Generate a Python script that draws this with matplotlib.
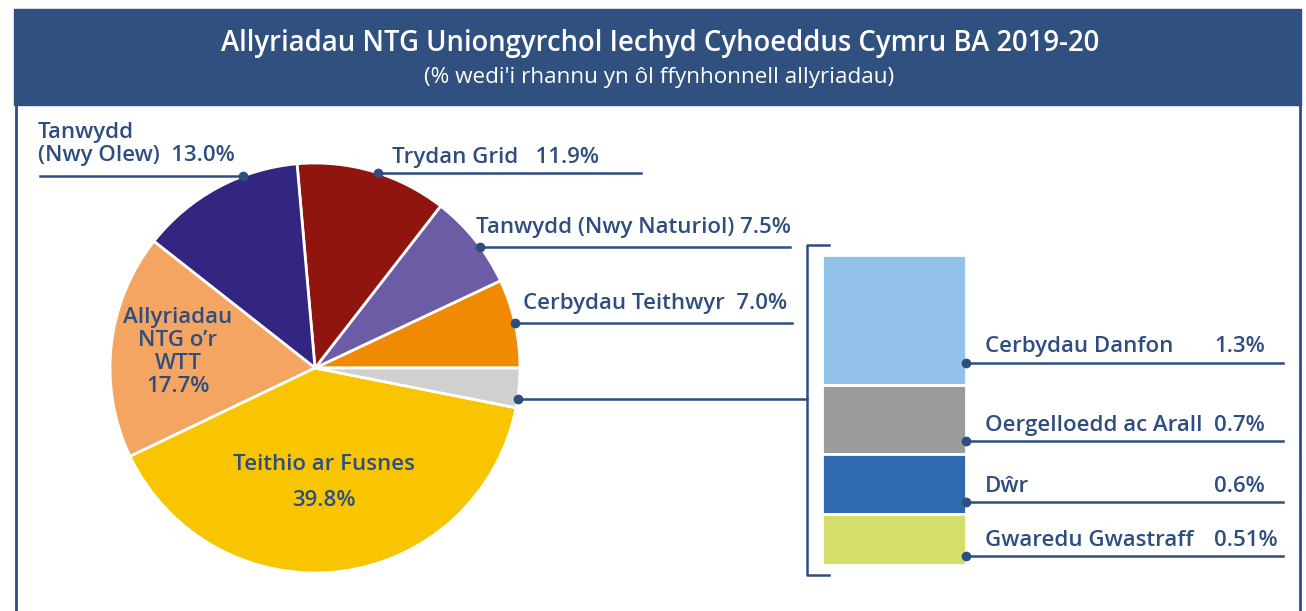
import numpy as np
import matplotlib
matplotlib.use("Agg")
import matplotlib.pyplot as plt
import matplotlib.transforms as mtransforms
from matplotlib.patches import Rectangle

plt.rcParams['font.family'] = ['Open Sans', 'DejaVu Sans']

title = "Allyriadau NTG Uniongyrchol Iechyd Cyhoeddus Cymru BA 2019-20"
subtitle = "(% wedi'i rhannu yn ôl ffynhonnell allyriadau)"

# breakdown of the small grey slice, top to bottom of the stacked bar
bar_names = ["Cerbydau Danfon", "Oergelloedd ac Arall", "Dŵr", "Gwaredu Gwastraff"]
bar_values = [1.3, 0.7, 0.6, 0.51]
bar_labels = ["1.3%", "0.7%", "0.6%", "0.51%"]
bar_colors = ["#92c1e9", "#9b9b9b", "#2f69b0", "#d4de6a"]

# pie slices, anticlockwise from 3 o'clock
pie_names = ["Cerbydau Teithwyr", "Tanwydd (Nwy Naturiol)", "Trydan Grid",
             "Tanwydd (Nwy Olew)", "Allyriadau NTG o’r WTT", "Teithio ar Fusnes", "Arall"]
pie_values = [7.0, 7.5, 11.9, 13.0, 17.7, 39.8, sum(bar_values)]
pie_colors = ["#f08a00", "#6b5ca5", "#8f150e", "#332680", "#f5a562", "#f9c500", "#d0d0d0"]

blue = "#2e4e80"
W, H = 1306, 611

fig = plt.figure(figsize=(W / 100, H / 100), dpi=100)
ax = fig.add_axes([0, 0, 1, 1])

# axis runs top-down in pixels, so counterclock=False draws anticlockwise on screen
cx, cy, r = 315, 368, 205
wedges, _ = ax.pie(pie_values, colors=pie_colors, startangle=0, counterclock=False,
                   center=(cx, cy), radius=r,
                   wedgeprops=dict(edgecolor="white", linewidth=2))
ax.set_xlim(0, W)
ax.set_ylim(H, 0)
ax.set_aspect("equal")
ax.axis("off")

# banner + frame
ax.add_patch(Rectangle((14, 9), 1287, 96, color="#30507f", zorder=0))
ax.plot([16, 16], [105, H], color=blue, lw=2)
ax.plot([1300, 1300], [105, H], color=blue, lw=2)
ax.text(660, 44, title, color="white", fontsize=19.8, fontweight="semibold",
        ha="center", va="center")
ax.text(659, 77, subtitle, color="white", fontsize=16.2, ha="center", va="center")

fs = 16
fw = "semibold"

# labels inside the pie
ax.text(178, 352, "Allyriadau\nNTG o’r\nWTT\n%.1f%%" % pie_values[4], color=blue,
        fontsize=fs, fontweight=fw, ha="center", va="center", linespacing=1.12)
ax.text(324, 465, pie_names[5], color=blue, fontsize=fs, fontweight=fw,
        ha="center", va="center")
ax.text(324, 500, "%.1f%%" % pie_values[5], color=blue, fontsize=fs, fontweight=fw,
        ha="center", va="center")


def rim_x(y, side):
    return cx + side * np.sqrt(r ** 2 - (y - cy) ** 2)


# outside labels: slice, leader y, side of circle, line end x
outside = [(3, 176, -1, 40), (2, 173, 1, 641), (1, 247, 1, 790), (0, 323, 1, 792),
           (6, 399, 1, 807)]
for i, ly, side, end in outside:
    dot = rim_x(ly, side)
    ax.plot([dot, end], [ly, ly], color=blue, lw=1.8)
    ax.plot(dot, ly, "o", color=blue, ms=6)

ax.text(38, 144, "Tanwydd\n(Nwy Olew)  %.1f%%" % pie_values[3], color=blue,
        fontsize=fs, fontweight=fw, ha="left", va="center", linespacing=1.18)
ax.text(392, 157, "Trydan Grid   %.1f%%" % pie_values[2], color=blue, fontsize=fs,
        fontweight=fw, ha="left", va="center")
ax.text(476, 228, "%s %.1f%%" % (pie_names[1], pie_values[1]), color=blue, fontsize=fs,
        fontweight=fw, ha="left", va="center")
ax.text(523, 303, "%s  %.1f%%" % (pie_names[0], pie_values[0]), color=blue, fontsize=fs,
        fontweight=fw, ha="left", va="center")

# bracket round the stacked bar
ax.plot([829, 807, 807, 829], [245, 245, 575, 575], color=blue, lw=1.8)

# stacked bar for the grey slice
bax = fig.add_axes([822 / W, (H - 565) / H, 144 / W, 310 / H])
bottoms = np.cumsum([0] + bar_values[::-1])[:-1][::-1]
bax.bar(0, bar_values, bottom=bottoms, width=1, color=bar_colors,
        edgecolor="white", linewidth=2)
bax.set_xlim(-0.5, 0.5)
bax.set_ylim(0, sum(bar_values))
bax.axis("off")

tr = mtransforms.blended_transform_factory(ax.transData, bax.transData)
line_offsets = [0.22, 0.13, 0.12, 0.09]
for name, lab, b, off in zip(bar_names, bar_labels, bottoms, line_offsets):
    ly = b + off
    bax.plot([966, 1283], [ly, ly], color=blue, lw=1.8, transform=tr, clip_on=False)
    bax.plot(966, ly, "o", color=blue, ms=6, transform=tr, clip_on=False)
    bax.text(985, ly + 0.16, name, color=blue, fontsize=fs, fontweight=fw,
             ha="left", va="center", transform=tr)
    bax.text(1214, ly + 0.16, lab, color=blue, fontsize=fs, fontweight=fw,
             ha="left", va="center", transform=tr)

fig.savefig("out.png", dpi=100)
